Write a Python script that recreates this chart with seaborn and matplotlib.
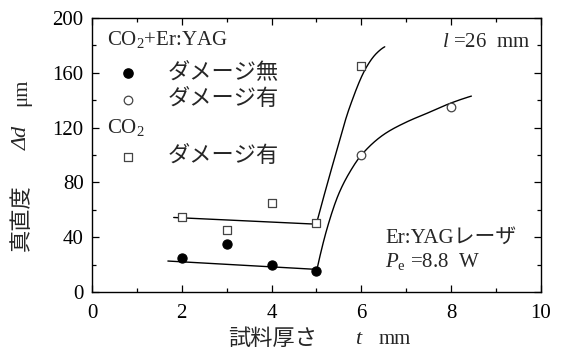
import numpy as np
import pandas as pd
import matplotlib
matplotlib.use("Agg")
import matplotlib.pyplot as plt
from matplotlib.ticker import MultipleLocator
import seaborn as sns

# Measured points
t_none = [2, 3, 4, 5]            # CO2+Er:YAG, no damage
d_none = [25, 35, 20, 15]
t_hit = [6, 8]                   # CO2+Er:YAG, damaged
d_hit = [100, 135]
t_co2 = [2, 3, 4, 5, 6]          # CO2 only, damaged
d_co2 = [55, 45, 65, 50, 165]

# Hand-drawn trend lines (read as control points)
trend_none_t = [1.69, 5.0]
trend_none_d = [22.6, 16.5]
trend_co2_t = [1.82, 5.0]
trend_co2_d = [54.4, 49.5]
curve_low_t = [5.0, 5.25, 5.5, 5.75, 6.0, 6.5, 7.0, 7.5, 8.0, 8.45]
curve_low_d = [15, 48, 72, 88, 100, 115, 124, 131, 138, 143]
curve_up_t = [5.0, 5.37, 5.74, 6.11, 6.33, 6.52]
curve_up_d = [50, 94, 135, 164, 174, 179]

x_ticks = [0, 2, 4, 6, 8, 10]
y_ticks = [0, 40, 80, 120, 160, 200]


def pchip(xk, yk, n=300):
    """Monotone cubic Hermite curve through control points."""
    xk = np.asarray(xk, float)
    yk = np.asarray(yk, float)
    h = np.diff(xk)
    d = np.diff(yk) / h
    m = np.zeros_like(xk)
    for i in range(1, len(xk) - 1):
        if d[i - 1] * d[i] > 0:
            w1 = 2 * h[i] + h[i - 1]
            w2 = h[i] + 2 * h[i - 1]
            m[i] = (w1 + w2) / (w1 / d[i - 1] + w2 / d[i])

    def end_slope(h0, h1, d0, d1):
        s = ((2 * h0 + h1) * d0 - h0 * d1) / (h0 + h1)
        if np.sign(s) != np.sign(d0):
            return 0.0
        if np.sign(d0) != np.sign(d1) and abs(s) > abs(3 * d0):
            return 3 * d0
        return s

    m[0] = end_slope(h[0], h[1], d[0], d[1])
    m[-1] = end_slope(h[-1], h[-2], d[-1], d[-2])
    xs = np.linspace(xk[0], xk[-1], n)
    idx = np.clip(np.searchsorted(xk, xs) - 1, 0, len(xk) - 2)
    s = (xs - xk[idx]) / h[idx]
    h00 = 2 * s**3 - 3 * s**2 + 1
    h10 = s**3 - 2 * s**2 + s
    h01 = -2 * s**3 + 3 * s**2
    h11 = s**3 - s**2
    ys = (h00 * yk[idx] + h10 * h[idx] * m[idx]
          + h01 * yk[idx + 1] + h11 * h[idx] * m[idx + 1])
    return xs, ys


sns.set_style("ticks")
plt.rcParams["font.family"] = ["Liberation Serif", "Noto Sans CJK JP"]
plt.rcParams["mathtext.fontset"] = "custom"
plt.rcParams["mathtext.rm"] = "Liberation Serif"
plt.rcParams["mathtext.it"] = "Liberation Serif:italic"
plt.rcParams["axes.unicode_minus"] = False

fig = plt.figure(figsize=(5.62, 3.56), dpi=100)
ax = fig.add_axes([0.1637, 0.1798, 0.7989, 0.7696])

lw = 1.0
sns.lineplot(x=trend_none_t, y=trend_none_d, ax=ax, color="black", lw=lw, sort=False)
sns.lineplot(x=trend_co2_t, y=trend_co2_d, ax=ax, color="black", lw=lw, sort=False)
xs, ys = pchip(curve_low_t, curve_low_d)
sns.lineplot(x=xs, y=ys, ax=ax, color="black", lw=lw, sort=False)
xs, ys = pchip(curve_up_t, curve_up_d)
sns.lineplot(x=xs, y=ys, ax=ax, color="black", lw=lw, sort=False)

S_DOT, S_RING, S_BOX = 44, 38, 34
sns.scatterplot(x=t_none, y=d_none, ax=ax, marker="o", s=S_DOT,
                color="black", edgecolor="black", linewidth=0.8, zorder=5)
sns.scatterplot(x=t_hit, y=d_hit, ax=ax, marker="o", s=S_RING,
                facecolor="white", edgecolor="#444444", linewidth=0.9, zorder=5)
sns.scatterplot(x=t_co2, y=d_co2, ax=ax, marker="s", s=S_BOX,
                facecolor="white", edgecolor="#444444", linewidth=0.9, zorder=5)

ax.set_xlim(0, 10)
ax.set_ylim(0, 200)
ax.set_xticks(x_ticks)
ax.set_yticks(y_ticks)
ax.xaxis.set_minor_locator(MultipleLocator(1))
ax.yaxis.set_minor_locator(MultipleLocator(20))
ax.tick_params(which="both", direction="in", top=True, right=True,
               labelsize=15, width=0.9, colors="black")
ax.tick_params(which="major", length=5)
ax.tick_params(which="minor", length=3)
ax.tick_params(axis="x", which="major", pad=9)
ax.tick_params(axis="y", which="major", pad=6)
for sp in ax.spines.values():
    sp.set_visible(True)
    sp.set_linewidth(1.0)
    sp.set_color("black")

# Axis titles built from pieces so the italic symbols keep their own font
fig.text(0.486, 0.045, "試料厚さ", fontsize=16, ha="center", va="center")
fig.text(0.637, 0.045, "t", fontsize=16, ha="center", va="center",
         style="italic", family="Liberation Serif")
fig.text(0.703, 0.045, "mm", fontsize=15, ha="center", va="center",
         family="Liberation Serif")

fig.text(0.039, 0.390, "真直度", fontsize=16, ha="center", va="center",
         rotation=90)
fig.text(0.039, 0.612, "Δd", fontsize=16, ha="center", va="center",
         rotation=90, style="italic", family="Liberation Serif")
fig.text(0.039, 0.742, "μm", fontsize=15, ha="center", va="center",
         rotation=90, family="Liberation Serif")

# Key drawn inside the plot area
tr = ax.transAxes
ax.text(0.033, 0.920, "CO$_2$+Er:YAG", transform=tr, fontsize=15, va="center")
ax.scatter([0.080], [0.799], transform=tr, s=S_DOT, color="black", clip_on=False)
ax.text(0.169, 0.799, "ダメージ無", transform=tr, fontsize=16, va="center")
ax.scatter([0.080], [0.701], transform=tr, s=S_RING, facecolor="white",
           edgecolor="#444444", linewidth=0.9, clip_on=False)
ax.text(0.169, 0.701, "ダメージ有", transform=tr, fontsize=16, va="center")
ax.text(0.033, 0.602, "CO$_2$", transform=tr, fontsize=15, va="center")
ax.scatter([0.080], [0.493], transform=tr, s=S_BOX, marker="s", facecolor="white",
           edgecolor="#444444", linewidth=0.9, clip_on=False)
ax.text(0.169, 0.493, "ダメージ有", transform=tr, fontsize=16, va="center")

ax.text(0.975, 0.912, "$\\mathit{l}$ =26  mm", transform=tr, fontsize=15,
        va="center", ha="right")
ax.text(0.653, 0.197, "Er:YAGレーザ", transform=tr, fontsize=15, va="center")
ax.text(0.653, 0.112, "$P_{\\mathrm{e}}$ =8.8  W", transform=tr, fontsize=15,
        va="center")

fig.savefig("out.png", dpi=100)
